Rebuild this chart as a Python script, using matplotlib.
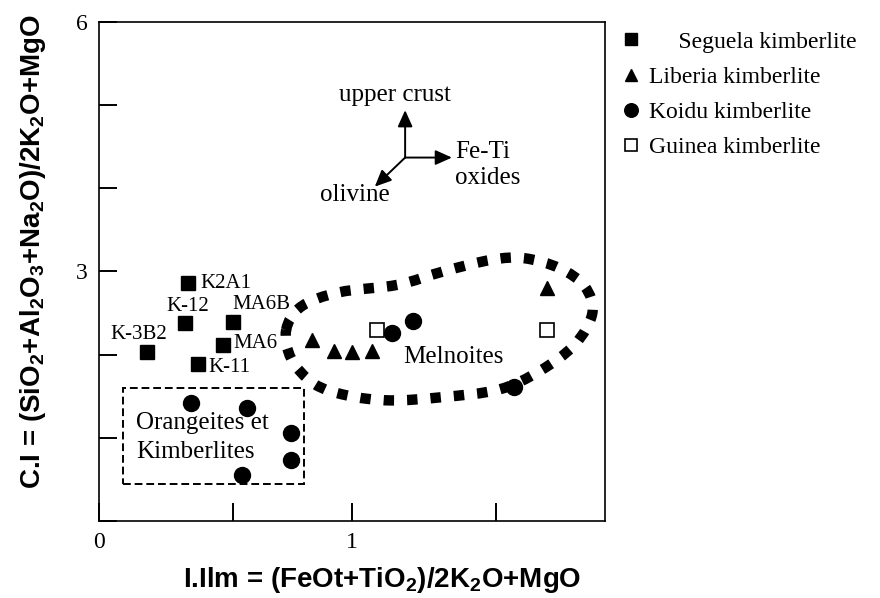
import numpy as np
import matplotlib
matplotlib.use("Agg")
import matplotlib.pyplot as plt
from matplotlib.path import Path
import matplotlib.patches as patches

plt.rcParams['mathtext.fontset'] = 'custom'
plt.rcParams['mathtext.rm'] = 'Liberation Sans:bold'
plt.rcParams['mathtext.it'] = 'Liberation Sans:bold'
plt.rcParams['mathtext.bf'] = 'Liberation Sans:bold'
plt.rcParams['mathtext.default'] = 'rm'

SERIF = 'Liberation Serif'

# Seguela samples (labelled)
seg_names = ['K2A1', 'K-12', 'MA6B', 'K-3B2', 'MA6', 'K-11']
seg_x = [0.35, 0.34, 0.53, 0.19, 0.49, 0.39]
seg_y = [2.86, 2.38, 2.39, 2.03, 2.12, 1.89]

# Liberia
lib_x = [0.84, 0.93, 1.00, 1.08, 1.77]
lib_y = [2.18, 2.04, 2.03, 2.04, 2.80]

# Koidu
koi_x = [1.16, 1.24, 1.64, 0.365, 0.586, 0.758, 0.758, 0.566]
koi_y = [2.26, 2.40, 1.61, 1.42, 1.36, 1.06, 0.73, 0.55]

# Guinea
gui_x = [1.10, 1.77]
gui_y = [2.30, 2.30]

# outline of the melnoite field
mel_x = [0.74, 0.80, 0.95, 1.18, 1.36, 1.55, 1.68, 1.82, 1.92, 1.95,
         1.88, 1.74, 1.58, 1.36, 1.15, 0.98, 0.85, 0.76]
mel_y = [2.30, 2.58, 2.75, 2.84, 3.00, 3.14, 3.16, 3.04, 2.82, 2.50,
         2.12, 1.80, 1.58, 1.49, 1.45, 1.51, 1.65, 1.95]

# orangeite / kimberlite box
box_x0, box_x1 = 0.095, 0.81
box_y0, box_y1 = 0.44, 1.60

xticks = [0, 0.53, 1, 1.57]
xticklabels = ['0', '', '1', '']
yticks = [0, 1, 2, 3, 4, 5, 6]
yticklabels = ['', '', '', '3', '', '', '6']


def closed_spline(xs, ys):
    # Catmull-Rom through the points, written as cubic bezier segments
    p = np.column_stack([xs, ys])
    n = len(p)
    verts = [p[0]]
    codes = [Path.MOVETO]
    for i in range(n):
        p0, p1, p2, p3 = p[i - 1], p[i], p[(i + 1) % n], p[(i + 2) % n]
        c1 = p1 + (p2 - p0) / 6.0
        c2 = p2 - (p3 - p1) / 6.0
        verts += [c1, c2, p2]
        codes += [Path.CURVE4] * 3
    return Path(verts, codes)


fig = plt.figure(figsize=(8.8, 5.98), dpi=100)
ax = fig.add_axes([0.1125, 0.1288, 0.575, 0.8344])

ax.plot(seg_x, seg_y, 's', color='black', ms=9.5, label='     Seguela kimberlite')
ax.plot(lib_x, lib_y, '^', color='black', ms=10, label='Liberia kimberlite')
ax.plot(koi_x, koi_y, 'o', color='black', ms=11.5, label='Koidu kimberlite')
ax.plot(gui_x, gui_y, 's', mfc='white', mec='black', mew=1.2, ms=10,
        label='Guinea kimberlite')

# sample names
lab_pos = {
    'K2A1': (0.40, 2.86, 'left'),
    'K-12': (0.35, 2.58, 'center'),
    'MA6B': (0.527, 2.60, 'left'),
    'K-3B2': (0.044, 2.24, 'left'),
    'MA6': (0.533, 2.14, 'left'),
    'K-11': (0.434, 1.85, 'left'),
}
for name in seg_names:
    tx, ty, ha = lab_pos[name]
    ax.text(tx, ty, name, fontsize=15, family=SERIF, ha=ha, va='center')

mel = patches.PathPatch(closed_spline(mel_x, mel_y), facecolor='none',
                        edgecolor='black', lw=7.5, linestyle=(0, (1, 1.25)),
                        capstyle='butt')
ax.add_patch(mel)
ax.text(1.40, 1.97, 'Melnoites', fontsize=18, family=SERIF, ha='center', va='center')

box = patches.Rectangle((box_x0, box_y0), box_x1 - box_x0, box_y1 - box_y0,
                        facecolor='none', edgecolor='black', lw=1.4,
                        linestyle=(0, (4, 2)))
ax.add_patch(box)
ax.text(0.147, 1.18, 'Orangeites et', fontsize=18, family=SERIF, ha='left', va='center')
ax.text(0.147, 0.83, 'Kimberlites', fontsize=18, family=SERIF, ha='left', va='center')

# trend arrows
org = (1.21, 4.37)
for tip in [(1.21, 4.94), (1.395, 4.37), (1.09, 4.02)]:
    ax.annotate('', xy=tip, xytext=org,
                arrowprops=dict(arrowstyle='-|>,head_length=1.0,head_width=0.45',
                                color='black', lw=1.4, shrinkA=0, shrinkB=0))
ax.text(1.17, 5.12, 'upper crust', fontsize=18, family=SERIF, ha='center', va='center')
ax.text(1.407, 4.44, 'Fe-Ti', fontsize=18, family=SERIF, ha='left', va='center')
ax.text(1.407, 4.13, 'oxides', fontsize=18, family=SERIF, ha='left', va='center')
ax.text(1.01, 3.92, 'olivine', fontsize=18, family=SERIF, ha='center', va='center')

ax.set_xlim(0, 2.0)
ax.set_ylim(0, 6)
ax.set_xticks(xticks)
ax.set_xticklabels(xticklabels, family=SERIF, fontsize=17)
ax.set_yticks(yticks)
ax.set_yticklabels(yticklabels, family=SERIF, fontsize=17)
ax.tick_params(direction='in', length=13, width=1.4, pad=8)
for sp in ax.spines.values():
    sp.set_linewidth(1.2)

ax.set_xlabel(r'I.Ilm = (FeOt+TiO$_2$)/2K$_2$O+MgO', fontsize=20,
              family='Liberation Sans', weight='bold')
ax.set_ylabel(r'C.I = (SiO$_2$+Al$_2$O$_3$+Na$_2$O)/2K$_2$O+MgO', fontsize=20,
              family='Liberation Sans', weight='bold')
ax.xaxis.set_label_coords(0.56, -0.088)
ax.yaxis.set_label_coords(-0.10, 0.54)

leg = ax.legend(loc='upper left', bbox_to_anchor=(1.0, 1.015), frameon=False,
                prop={'family': SERIF, 'size': 17}, handlelength=0.8,
                handletextpad=0.35, labelspacing=0.58, borderpad=0.2,
                markerscale=0.85)

fig.savefig('out.png', dpi=100)
